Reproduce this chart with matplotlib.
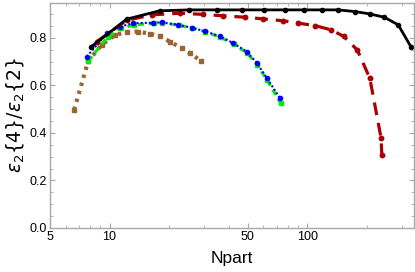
import matplotlib
matplotlib.use('Agg')
import matplotlib.pyplot as plt
from matplotlib.ticker import FixedLocator, NullFormatter, FixedFormatter, MultipleLocator

plt.rcParams['font.family'] = ['Liberation Sans', 'DejaVu Sans']
plt.rcParams['mathtext.fontset'] = 'dejavusans'

# black solid
npart_black = [8.06, 12.2, 17.9, 25.3, 34.8, 46.6, 60.4, 77.1, 96.6, 118, 143, 174, 207, 245, 288, 334]
ratio_black = [0.762, 0.879, 0.914, 0.918, 0.918, 0.918, 0.918, 0.918, 0.918, 0.918, 0.918, 0.911, 0.901, 0.887, 0.855, 0.763]

# red dashed
npart_red = [8.6, 12.2, 16.3, 22.7, 29.8, 37.5, 48.4, 60, 75.7, 90.2, 109, 132, 153, 179, 207, 236, 238]
ratio_red = [0.784, 0.874, 0.897, 0.904, 0.899, 0.893, 0.887, 0.880, 0.872, 0.862, 0.852, 0.834, 0.806, 0.749, 0.630, 0.378, 0.307]

# blue / green
npart_blue = [7.67, 9.7, 11.3, 13.2, 16.6, 18.4, 22.3, 26.0, 30.4, 36.2, 42.3, 49.4, 55.5, 62.3, 72.8]
ratio_blue = [0.721, 0.820, 0.848, 0.862, 0.864, 0.865, 0.855, 0.843, 0.828, 0.806, 0.778, 0.742, 0.695, 0.632, 0.546]
npart_green = [7.8, 9.8, 11.4, 13.3, 16.7, 18.5, 22.4, 26.1, 30.5, 36.3, 42.4, 49.5, 55.6, 62.4, 73.3]
ratio_green = [0.703, 0.805, 0.840, 0.855, 0.861, 0.864, 0.853, 0.842, 0.826, 0.803, 0.774, 0.737, 0.688, 0.624, 0.525]

# brown dotted
npart_brown = [6.62, 7.8, 9.13, 10.7, 12.2, 14.0, 16.0, 18.0, 20.2, 23.2, 25.5, 28.9]
ratio_brown = [0.497, 0.703, 0.771, 0.813, 0.824, 0.827, 0.817, 0.808, 0.784, 0.757, 0.736, 0.704]

fig = plt.figure(figsize=(4.15, 2.72), dpi=100)
ax = fig.add_axes([0.1205, 0.1618, 0.877, 0.8272])

brown = (0.6, 0.4, 0.2)
red = (0.67, 0.0, 0.0)

ax.plot(npart_brown, ratio_brown, color=brown, lw=3, ls=(0, (0.8, 1.2)), marker='s', ms=3)
ax.plot(npart_green, ratio_green, color='#00ee00', lw=2.2, ls=(0, (2, 1.5)), marker='s', ms=3.5)
ax.plot(npart_blue, ratio_blue, color='#0000ff', lw=1.5, ls=(0, (1, 1)), marker='o', ms=3)
ax.plot(npart_red, ratio_red, color=red, lw=2.3, ls=(0, (4, 2.5)), marker='o', ms=3.2)
ax.plot(npart_black, ratio_black, color='black', lw=2, marker='o', ms=3)

ax.set_xscale('log')
ax.set_xlim(5, 346)
ax.set_ylim(0, 0.947)

ax.xaxis.set_major_locator(FixedLocator([5, 10, 50, 100]))
ax.xaxis.set_major_formatter(FixedFormatter(['5', '10', '50', '100']))
ax.xaxis.set_minor_locator(FixedLocator([6, 7, 8, 9, 20, 30, 40, 60, 70, 80, 90, 200, 300]))
ax.xaxis.set_minor_formatter(NullFormatter())
ax.yaxis.set_major_locator(MultipleLocator(0.2))
ax.yaxis.set_minor_locator(MultipleLocator(0.05))
ax.yaxis.set_major_formatter(plt.FuncFormatter(lambda v, p: '%.1f' % v))

frame = '#a8a8a8'
for s in ax.spines.values():
    s.set_color(frame)
    s.set_linewidth(1)
ax.tick_params(which='both', direction='in', top=True, right=True, color=frame, labelsize=9, pad=2)
ax.tick_params(which='major', length=3.5, width=0.8)
ax.tick_params(which='minor', length=2, width=0.6)

ax.set_xlabel('Npart', fontsize=12.5, labelpad=6)
ax.set_ylabel(r'$\varepsilon_2\{4\}/\varepsilon_2\{2\}$', fontsize=13.5, labelpad=3)

fig.savefig('out.png', dpi=100)
